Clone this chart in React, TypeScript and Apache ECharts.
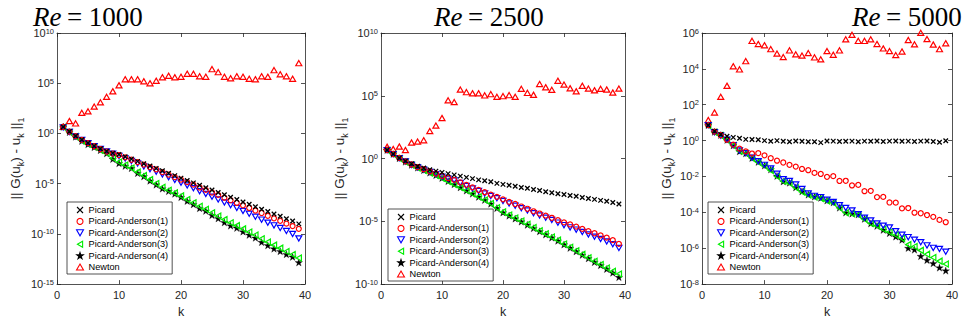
import React, { useEffect, useRef } from "react";
import * as echarts from "echarts";

// iteration index k
const iterations = [1,2,3,4,5,6,7,8,9,10,11,12,13,14,15,16,17,18,19,20,21,22,23,24,25,26,27,28,29,30,31,32,33,34,35,36,37,38,39];
const xTicks = [0, 10, 20, 30, 40];
const methodNames = ["Picard", "Picard-Anderson(1)", "Picard-Anderson(2)", "Picard-Anderson(3)", "Picard-Anderson(4)", "Newton"];
const reynolds = ["1000", "2500", "5000"];

// y tick exponents (labels 10^n) per panel
const yTicks1000 = [-15, -10, -5, 0, 5, 10];
const yTicks2500 = [-10, -5, 0, 5, 10];
const yTicks5000 = [-8, -6, -4, -2, 0, 2, 4, 6];

// log10 of residual || G(u_k) - u_k ||_1 ; Re = 1000
const re1000Picard = [0.65,0.2,-0.25,-0.62,-0.95,-1.25,-1.52,-1.78,-1.98,-2.1,-2.32,-2.55,-2.78,-3.02,-3.25,-3.48,-3.72,-3.97,-4.2,-4.45,-4.68,-4.92,-5.15,-5.4,-5.63,-5.88,-6.1,-6.35,-6.58,-6.82,-7.05,-7.3,-7.55,-7.78,-8.02,-8.25,-8.5,-8.72,-9.0];
const re1000PA1 = [0.65,0.18,-0.27,-0.64,-0.97,-1.27,-1.55,-1.8,-2.0,-2.15,-2.38,-2.62,-2.85,-3.1,-3.35,-3.58,-3.85,-4.1,-4.35,-4.6,-4.85,-5.1,-5.38,-5.62,-5.88,-6.12,-6.4,-6.65,-6.92,-7.15,-7.42,-7.68,-7.92,-8.2,-8.45,-8.7,-8.98,-9.22,-9.5];
const re1000PA2 = [0.6,0.15,-0.3,-0.66,-0.98,-1.28,-1.55,-1.8,-2.02,-2.25,-2.5,-2.75,-3.0,-3.28,-3.55,-3.8,-4.08,-4.35,-4.62,-4.9,-5.18,-5.45,-5.75,-6.02,-6.3,-6.58,-6.88,-7.15,-7.42,-7.72,-8.0,-8.3,-8.58,-8.88,-9.15,-9.42,-9.72,-10.0,-10.45];
const re1000PA3 = [0.62,0.12,-0.32,-0.72,-1.05,-1.35,-1.66,-1.98,-2.45,-2.85,-3.15,-3.45,-3.85,-4.2,-4.6,-4.98,-5.35,-5.65,-5.92,-6.22,-6.58,-6.9,-7.25,-7.55,-7.9,-8.22,-8.58,-8.9,-9.18,-9.5,-9.82,-10.12,-10.48,-10.8,-11.12,-11.42,-11.75,-12.05,-12.4];
const re1000PA4 = [0.65,0.13,-0.33,-0.75,-1.08,-1.37,-1.67,-1.99,-2.55,-2.97,-3.24,-3.46,-3.95,-4.28,-4.71,-5.1,-5.49,-5.75,-6.01,-6.34,-6.73,-7.06,-7.45,-7.71,-8.14,-8.46,-8.86,-9.18,-9.41,-9.77,-10.1,-10.39,-10.82,-11.14,-11.47,-11.73,-12.03,-12.29,-12.84];
const re1000Newton = [0.65,1.24,1.0,2.05,2.2,2.67,3.1,3.65,4.2,4.8,5.4,5.4,5.4,5.2,5.0,5.25,5.6,5.75,5.6,5.65,5.95,5.95,5.7,5.65,6.4,6.1,5.65,5.5,5.7,5.65,5.45,5.4,5.7,5.65,6.3,5.9,5.7,5.45,7.0];

// Re = 2500
const re2500Picard = [0.68,0.36,0.05,-0.2,-0.42,-0.62,-0.75,-0.89,-1.0,-1.1,-1.2,-1.3,-1.4,-1.5,-1.6,-1.7,-1.77,-1.85,-1.98,-2.06,-2.13,-2.2,-2.3,-2.37,-2.47,-2.55,-2.65,-2.73,-2.8,-2.86,-2.94,-3.0,-3.1,-3.18,-3.25,-3.33,-3.4,-3.5,-3.62];
const re2500PA1 = [0.68,0.36,0.05,-0.22,-0.47,-0.68,-0.85,-1.02,-1.2,-1.38,-1.55,-1.7,-1.9,-2.1,-2.3,-2.5,-2.68,-2.88,-3.05,-3.25,-3.45,-3.62,-3.82,-4.0,-4.2,-4.38,-4.55,-4.72,-4.9,-5.08,-5.25,-5.42,-5.6,-5.78,-5.95,-6.12,-6.3,-6.5,-6.8];
const re2500PA2 = [0.66,0.34,0.02,-0.24,-0.5,-0.7,-0.88,-1.06,-1.25,-1.45,-1.6,-1.75,-1.95,-2.18,-2.38,-2.58,-2.78,-2.98,-3.16,-3.38,-3.58,-3.76,-3.96,-4.14,-4.35,-4.54,-4.72,-4.9,-5.1,-5.3,-5.48,-5.66,-5.85,-6.04,-6.22,-6.4,-6.6,-6.82,-7.13];
const re2500PA3 = [0.66,0.34,0.0,-0.27,-0.52,-0.74,-0.94,-1.14,-1.34,-1.57,-1.82,-2.06,-2.3,-2.55,-2.8,-3.05,-3.3,-3.58,-3.92,-4.25,-4.5,-4.74,-4.98,-5.24,-5.5,-5.75,-6.0,-6.25,-6.5,-6.8,-7.06,-7.34,-7.62,-7.9,-8.18,-8.44,-8.72,-8.98,-9.2];
const re2500PA4 = [0.68,0.36,0.02,-0.25,-0.5,-0.72,-0.92,-1.12,-1.32,-1.55,-1.8,-2.05,-2.3,-2.55,-2.8,-3.05,-3.3,-3.6,-3.95,-4.3,-4.55,-4.78,-5.02,-5.28,-5.55,-5.8,-6.05,-6.3,-6.55,-6.85,-7.12,-7.4,-7.68,-7.95,-8.25,-8.5,-8.8,-9.1,-9.45];
const re2500Newton = [0.94,0.76,0.96,0.68,1.28,1.35,1.46,2.19,2.63,3.23,4.64,4.5,5.49,5.29,5.2,5.2,5.03,5.13,4.92,4.97,5.05,4.92,5.55,5.23,5.08,5.94,5.68,5.47,6.2,5.89,5.6,5.36,5.8,5.57,5.44,5.55,5.5,5.26,5.57];

// Re = 5000
const re5000Picard = [0.86,0.53,0.35,0.24,0.18,0.13,0.07,0.06,0.05,0.0,-0.04,0.0,-0.04,-0.06,-0.02,-0.04,-0.06,-0.06,-0.11,-0.02,-0.03,-0.05,-0.04,-0.03,-0.06,-0.03,-0.04,-0.02,-0.05,-0.03,-0.02,-0.04,-0.03,-0.05,-0.03,-0.02,-0.05,-0.09,-0.01];
const re5000PA1 = [0.86,0.5,0.3,0.05,-0.22,-0.45,-0.6,-0.72,-0.7,-0.82,-0.98,-1.12,-1.22,-1.35,-1.45,-1.58,-1.65,-1.8,-1.86,-2.02,-1.98,-2.25,-2.24,-2.5,-2.47,-2.82,-2.8,-3.15,-3.14,-3.45,-3.46,-3.78,-3.76,-4.02,-4.05,-4.15,-4.25,-4.42,-4.55];
const re5000PA2 = [0.86,0.47,0.28,0.05,-0.25,-0.55,-0.7,-0.95,-1.15,-1.35,-1.55,-1.85,-2.15,-2.25,-2.45,-2.7,-2.95,-3.08,-3.15,-3.3,-3.42,-3.6,-3.75,-3.89,-4.1,-4.3,-4.45,-4.62,-4.74,-4.84,-5.05,-5.25,-5.38,-5.53,-5.67,-5.84,-5.98,-6.04,-6.2];
const re5000PA3 = [0.84,0.47,0.28,0.02,-0.28,-0.58,-0.72,-0.98,-1.2,-1.42,-1.66,-2.0,-2.26,-2.38,-2.63,-2.86,-3.03,-3.14,-3.22,-3.36,-3.48,-3.76,-4.02,-4.08,-4.14,-4.38,-4.62,-4.74,-4.94,-5.1,-5.26,-5.45,-5.8,-5.9,-6.12,-6.33,-6.52,-6.72,-6.88];
const re5000PA4 = [0.86,0.49,0.31,0.04,-0.27,-0.6,-0.71,-0.97,-1.19,-1.39,-1.61,-1.97,-2.28,-2.35,-2.61,-2.83,-3.01,-3.12,-3.19,-3.34,-3.45,-3.74,-4.01,-4.07,-4.12,-4.36,-4.62,-4.76,-4.98,-5.16,-5.35,-5.53,-5.99,-6.08,-6.44,-6.66,-6.84,-7.08,-7.25];
const re5000Newton = [1.15,1.57,2.44,3.06,4.15,3.97,4.43,5.56,5.39,5.32,5.1,4.85,4.66,5.03,4.81,4.74,4.88,4.64,4.53,4.99,4.79,5.03,5.65,5.9,5.56,5.56,5.65,5.39,5.14,4.99,4.77,4.97,5.61,5.37,6.01,5.66,5.36,5.1,5.43];

const panelSeries = [
  [re1000Picard, re1000PA1, re1000PA2, re1000PA3, re1000PA4, re1000Newton],
  [re2500Picard, re2500PA1, re2500PA2, re2500PA3, re2500PA4, re2500Newton],
  [re5000Picard, re5000PA1, re5000PA2, re5000PA3, re5000PA4, re5000Newton],
];
const panelYTicks = [yTicks1000, yTicks2500, yTicks5000];

// ---- layout / styles ----
const SANS = "Liberation Sans, Arial, Helvetica, sans-serif";
const SERIF = "Liberation Serif, Times New Roman, serif";
const AXIS_COLOR = "#262626";
const CLEAR = "rgba(0,0,0,0)";
const X_PATH = "path://M0,0L10,10M10,0L0,10";
const STAR_PATH = "path://M50,0L61.2,34.5L97.6,34.5L68.2,55.9L79.4,90.5L50,69.1L20.6,90.5L31.8,55.9L2.4,34.5L38.8,34.5Z";
const TRI_UP = "path://M5,0L10,8.66L0,8.66Z";
const TRI_DOWN = "path://M0,0L10,0L5,8.66Z";
const TRI_LEFT = "path://M0,5L8.66,0L8.66,10Z";

const methodStyles = [
  { symbol: X_PATH, size: 4.5, fill: "#000", stroke: "#000", lw: 1.3 },
  { symbol: "circle", size: 5, fill: CLEAR, stroke: "#ff0000", lw: 1.2 },
  { symbol: TRI_DOWN, size: 6, fill: CLEAR, stroke: "#0000ff", lw: 1.2 },
  { symbol: TRI_LEFT, size: 6, fill: CLEAR, stroke: "#00ee00", lw: 1.2 },
  { symbol: STAR_PATH, size: 7.5, fill: "#000", stroke: "#000", lw: 0.3 },
  { symbol: TRI_UP, size: 6, fill: CLEAR, stroke: "#ff0000", lw: 1.2 },
];

const layouts = [
  { grid: { left: 57, top: 33, width: 248, height: 256 }, legend: { left: 67, top: 202 }, title: { left: 33, top: 7 }, nameGap: 32 },
  { grid: { left: 381, top: 33, width: 244, height: 256 }, legend: { left: 388, top: 209 }, title: { left: 434, top: 7 }, nameGap: 32 },
  { grid: { left: 702, top: 33, width: 250, height: 256 }, legend: { left: 708, top: 202 }, title: { left: 852, top: 7 }, nameGap: 26 },
];

const tickRich = {
  b: { fontSize: 11, fontFamily: SANS, color: AXIS_COLOR, lineHeight: 12 },
  s: { fontSize: 7.5, fontFamily: SANS, color: AXIS_COLOR, lineHeight: 6, verticalAlign: "top" as const },
};

function buildOption() {
  const grid: any[] = [];
  const xAxis: any[] = [];
  const yAxis: any[] = [];
  const series: any[] = [];
  const legend: any[] = [];
  const title: any[] = [];
  const axisLine = { show: true, onZero: false, lineStyle: { color: AXIS_COLOR, width: 0.8 } };
  const axisTick = { show: true, inside: true, length: 4, lineStyle: { color: AXIS_COLOR, width: 0.8 } };

  layouts.forEach((lay, p) => {
    const ticks = panelYTicks[p];
    const yMin = ticks[0];
    const yMax = ticks[ticks.length - 1];
    const yStep = ticks[1] - ticks[0];
    grid.push({ ...lay.grid, containLabel: false });
    const xBase = { type: "value", gridIndex: p, min: xTicks[0], max: xTicks[xTicks.length - 1], interval: xTicks[1] - xTicks[0], splitLine: { show: false }, axisLine, axisTick };
    xAxis.push({
      ...xBase, position: "bottom",
      axisLabel: { margin: 5, fontSize: 11, fontFamily: SANS, color: AXIS_COLOR },
      name: "k", nameLocation: "middle", nameGap: 18,
      nameTextStyle: { fontSize: 12.5, fontFamily: SANS, color: AXIS_COLOR },
    });
    xAxis.push({ ...xBase, position: "top", axisLabel: { show: false } });
    const yBase = { type: "value", gridIndex: p, min: yMin, max: yMax, interval: yStep, splitLine: { show: false }, axisLine, axisTick };
    yAxis.push({
      ...yBase, position: "left",
      axisLabel: { margin: 3, formatter: (v: number) => `{b|10}{s|${v}}`, rich: tickRich },
      name: "|| G(u{s|k}) - u{s|k} ||{s|1}", nameLocation: "middle", nameGap: lay.nameGap, nameRotate: 90,
      nameTextStyle: {
        fontSize: 13.5, fontFamily: SANS, color: AXIS_COLOR, lineHeight: 19,
        rich: { s: { fontSize: 9, fontFamily: SANS, color: AXIS_COLOR, lineHeight: 10, verticalAlign: "bottom" } },
      },
    });
    yAxis.push({ ...yBase, position: "right", axisLabel: { show: false } });

    panelSeries[p].forEach((vals, m) => {
      const st = methodStyles[m];
      series.push({
        type: "scatter",
        name: methodNames[m],
        xAxisIndex: 2 * p,
        yAxisIndex: 2 * p,
        clip: false,
        symbol: st.symbol,
        symbolSize: st.size,
        symbolKeepAspect: true,
        itemStyle: { color: st.fill, borderColor: st.stroke, borderWidth: st.lw, opacity: 1 },
        data: iterations.map((k, i) => [k, vals[i]]),
        z: 2 + (m === 5 ? 0 : 5 - m),
      });
    });

    legend.push({
      orient: "vertical",
      left: lay.legend.left,
      top: lay.legend.top,
      data: methodNames,
      selectedMode: false,
      itemWidth: 7,
      itemHeight: 6,
      itemGap: 0.4,
      padding: [2.5, 4, 1.5, 9],
      borderColor: AXIS_COLOR,
      borderWidth: 0.8,
      backgroundColor: "#ffffff",
      itemStyle: { borderWidth: 1.1 },
      textStyle: { fontSize: 9.2, fontFamily: SANS, color: "#000", lineHeight: 11 },
      z: 10,
    });

    title.push({
      left: lay.title.left,
      top: lay.title.top,
      padding: 0,
      text: `{i|Re\u2009}{n|= ${reynolds[p]}}`,
      textStyle: {
        rich: {
          i: { fontFamily: SERIF, fontStyle: "italic", fontWeight: "normal", fontSize: 27, lineHeight: 20, color: "#000" },
          n: { fontFamily: SERIF, fontWeight: "normal", fontSize: 27, lineHeight: 20, color: "#000" },
        },
      },
    });
  });

  return { animation: false, backgroundColor: "#ffffff", grid, xAxis, yAxis, series, legend, title };
}

export default function App() {
  const ref = useRef<HTMLDivElement>(null);
  useEffect(() => {
    if (!ref.current) return;
    const chart = echarts.init(ref.current, null, { renderer: "svg" });
    chart.setOption(buildOption() as any);
    return () => chart.dispose();
  }, []);
  return <div ref={ref} style={{ position: "absolute", left: 0, top: 0, width: 967, height: 323 }} />;
}
